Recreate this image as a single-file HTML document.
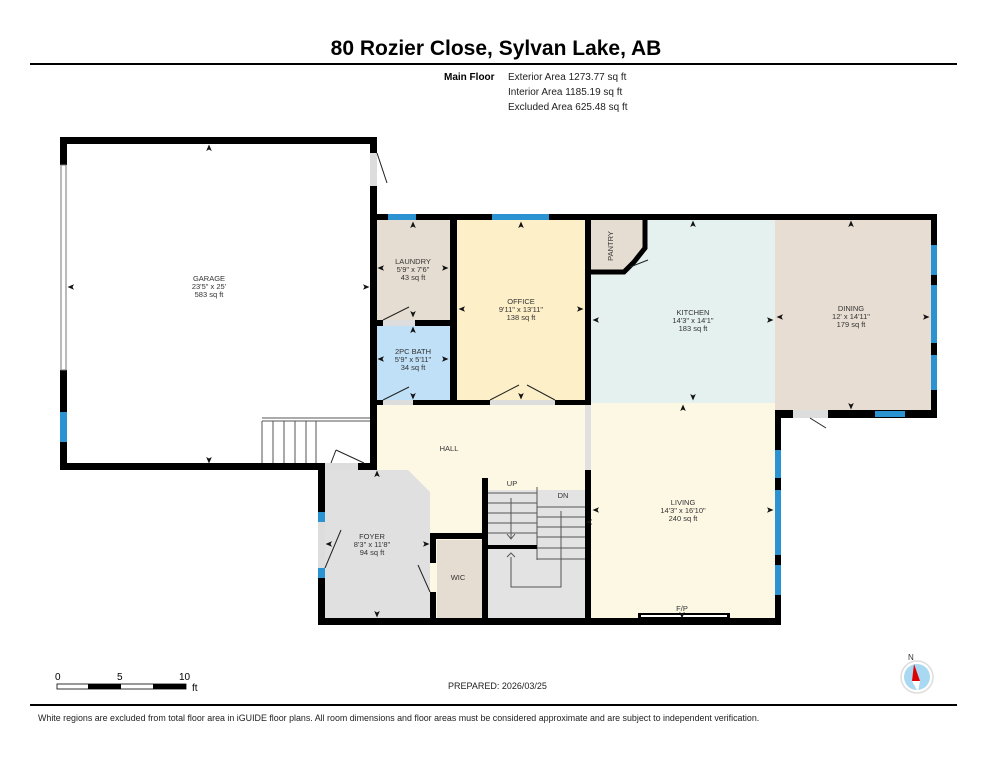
<!DOCTYPE html>
<html><head><meta charset="utf-8"><style>
html,body{margin:0;padding:0;background:#fff;}
svg{display:block;font-family:"Liberation Sans",Arial,sans-serif;}
</style></head><body>
<svg width="993" height="768" viewBox="0 0 993 768" xmlns="http://www.w3.org/2000/svg">
<defs>
<polygon id="au" points="0,-3.5 2.8,3 0,1.5 -2.8,3" fill="#111"/>
</defs>
<rect width="993" height="768" fill="#fff"/>
<!-- header -->
<text x="496" y="55" font-size="21" font-weight="bold" text-anchor="middle" fill="#000">80 Rozier Close, Sylvan Lake, AB</text>
<rect x="30" y="63" width="927" height="2" fill="#000"/>
<text x="444" y="80" font-size="10" font-weight="bold">Main Floor</text>
<g font-size="10" fill="#222">
<text x="508" y="80">Exterior Area 1273.77 sq ft</text>
<text x="508" y="95">Interior Area 1185.19 sq ft</text>
<text x="508" y="110">Excluded Area 625.48 sq ft</text>
</g>

<!-- fills -->
<rect x="377" y="220" width="73" height="100" fill="#e6ddd2"/>
<rect x="377" y="326" width="73" height="74" fill="#bfe0f7"/>
<rect x="457" y="220" width="128" height="180" fill="#fdf0c8"/>
<rect x="591" y="220" width="184" height="183" fill="#e4f1ee"/>
<polygon points="591,220 645,220 645,248 634,262 624,272 591,272" fill="#e6ddd2"/>
<rect x="775" y="220" width="156" height="190" fill="#e7ddd2"/>
<rect x="591" y="403" width="184" height="215" fill="#fdf8e4"/>
<rect x="377" y="405" width="208" height="213" fill="#fdf8e4"/>
<polygon points="325,470 408,470 430,492 430,618 325,618" fill="#e0e0e0"/>
<rect x="437" y="540" width="45" height="78" fill="#e6ddd2"/>
<rect x="488" y="490" width="97" height="128" fill="#e3e3e3"/>
<rect x="585" y="405" width="6" height="65" fill="#e0e0e0"/>

<!-- stairs -->
<g stroke="#555" stroke-width="1" fill="none">
<line x1="488" y1="493" x2="537" y2="493"/>
<line x1="488" y1="503" x2="537" y2="503"/>
<line x1="488" y1="513" x2="537" y2="513"/>
<line x1="488" y1="523" x2="537" y2="523"/>
<line x1="488" y1="533" x2="537" y2="533"/>
<line x1="537" y1="487" x2="537" y2="560"/>
<line x1="537" y1="507" x2="585" y2="507"/>
<line x1="537" y1="517" x2="585" y2="517"/>
<line x1="537" y1="527" x2="585" y2="527"/>
<line x1="537" y1="537" x2="585" y2="537"/>
<line x1="537" y1="548" x2="585" y2="548"/>
<line x1="537" y1="559" x2="585" y2="559"/>
<line x1="511" y1="498" x2="511" y2="538"/>
<polyline points="507,534 511,539 515,534"/>
<polyline points="511,557 511,587 561,587 561,511"/>
<polyline points="507,557 511,553 515,557"/>
<!-- garage stairs -->
<line x1="262" y1="418" x2="370" y2="418"/>
<line x1="262" y1="421" x2="370" y2="421"/>
<line x1="262" y1="421" x2="262" y2="463"/>
<line x1="273" y1="421" x2="273" y2="463"/>
<line x1="284" y1="421" x2="284" y2="463"/>
<line x1="295" y1="421" x2="295" y2="463"/>
<line x1="306" y1="421" x2="306" y2="463"/>
<line x1="316" y1="421" x2="316" y2="463"/>
</g>
<rect x="484" y="545" width="53" height="4" fill="#000"/>

<!-- walls -->
<g fill="#000">
<rect x="60" y="137" width="317" height="7"/>
<rect x="60" y="137" width="7" height="28"/>
<rect x="60" y="370" width="7" height="100"/>
<rect x="60" y="463" width="217" height="7"/>
<rect x="277" y="463" width="48" height="7"/>
<rect x="370" y="137" width="7" height="16"/>
<rect x="370" y="186" width="7" height="284"/>
<rect x="370" y="214" width="567" height="6"/>
<rect x="450" y="214" width="7" height="191"/>
<rect x="585" y="214" width="6" height="191"/>
<rect x="370" y="320" width="13" height="6"/>
<rect x="415" y="320" width="42" height="6"/>
<rect x="370" y="400" width="13" height="5"/>
<rect x="413" y="400" width="77" height="5"/>
<rect x="555" y="400" width="36" height="5"/>
<rect x="931" y="214" width="6" height="204"/>
<rect x="775" y="410" width="18" height="8"/>
<rect x="828" y="410" width="109" height="8"/>
<rect x="775" y="410" width="6" height="215"/>
<rect x="585" y="470" width="6" height="148"/>
<rect x="318" y="618" width="463" height="7"/>
<rect x="318" y="463" width="7" height="162"/>
<rect x="358" y="463" width="19" height="7"/>
<rect x="482" y="478" width="6" height="140"/>
<rect x="430" y="533" width="55" height="6"/>
<rect x="430" y="533" width="6" height="30"/>
<rect x="430" y="592" width="6" height="30"/>
<polyline points="645,220 645,248 634,262 624,272 591,272" fill="none" stroke="#000" stroke-width="5"/>
<rect x="638" y="613" width="92" height="6"/>
</g>
<rect x="641" y="615" width="86" height="2" fill="#fff"/>

<!-- windows -->
<g fill="#2b93d1">
<rect x="388" y="214" width="28" height="6"/>
<rect x="492" y="214" width="57" height="6"/>
<rect x="931" y="245" width="6" height="30"/>
<rect x="931" y="285" width="6" height="58"/>
<rect x="931" y="355" width="6" height="35"/>
<rect x="875" y="411" width="30" height="6"/>
<rect x="775" y="450" width="6" height="28"/>
<rect x="775" y="490" width="6" height="65"/>
<rect x="775" y="565" width="6" height="30"/>
<rect x="60" y="412" width="7" height="30"/>
<rect x="318" y="512" width="7" height="10"/>
<rect x="318" y="568" width="7" height="10"/>
</g>
<rect x="61" y="165" width="5" height="205" fill="#fff" stroke="#777" stroke-width="1"/>

<!-- doors -->
<g fill="#ddd"><rect x="370" y="153" width="7" height="33"/><rect x="383" y="400" width="30" height="5"/><rect x="490" y="400" width="65" height="5"/><rect x="383" y="320" width="32" height="6"/><rect x="325" y="463" width="33" height="7"/><rect x="793" y="410" width="35" height="8"/><rect x="318" y="522" width="7" height="46"/></g>
<g stroke="#222" stroke-width="1" fill="none">
<line x1="377" y1="153" x2="387" y2="183"/>
<line x1="383" y1="320" x2="409" y2="307"/>
<line x1="383" y1="400" x2="409" y2="387"/>
<line x1="490" y1="400" x2="519" y2="385"/>
<line x1="555" y1="400" x2="527" y2="385"/>
<line x1="331" y1="463" x2="336" y2="450"/><line x1="336" y1="450" x2="364" y2="463"/>
<line x1="325" y1="568" x2="341" y2="530"/>
<line x1="430" y1="592" x2="418" y2="565"/>
<line x1="810" y1="418" x2="826" y2="428"/>
<line x1="630" y1="267" x2="648" y2="260"/>
</g>

<!-- dimension arrowheads -->
<g>
<use href="#au" transform="translate(209,148)"/>
<use href="#au" transform="translate(209,460) rotate(180)"/>
<use href="#au" transform="translate(71,287) rotate(-90)"/>
<use href="#au" transform="translate(366,287) rotate(90)"/>
<use href="#au" transform="translate(413,225)"/>
<use href="#au" transform="translate(413,314) rotate(180)"/>
<use href="#au" transform="translate(381,268) rotate(-90)"/>
<use href="#au" transform="translate(445,268) rotate(90)"/>
<use href="#au" transform="translate(413,330)"/>
<use href="#au" transform="translate(413,396) rotate(180)"/>
<use href="#au" transform="translate(381,359) rotate(-90)"/>
<use href="#au" transform="translate(445,359) rotate(90)"/>
<use href="#au" transform="translate(521,225)"/>
<use href="#au" transform="translate(521,396) rotate(180)"/>
<use href="#au" transform="translate(462,309) rotate(-90)"/>
<use href="#au" transform="translate(580,309) rotate(90)"/>
<use href="#au" transform="translate(693,224)"/>
<use href="#au" transform="translate(693,397) rotate(180)"/>
<use href="#au" transform="translate(596,320) rotate(-90)"/>
<use href="#au" transform="translate(770,320) rotate(90)"/>
<use href="#au" transform="translate(851,224)"/>
<use href="#au" transform="translate(851,406) rotate(180)"/>
<use href="#au" transform="translate(780,317) rotate(-90)"/>
<use href="#au" transform="translate(926,317) rotate(90)"/>
<use href="#au" transform="translate(683,408)"/>
<use href="#au" transform="translate(682,615) rotate(180)"/>
<use href="#au" transform="translate(596,510) rotate(-90)"/>
<use href="#au" transform="translate(770,510) rotate(90)"/>
<use href="#au" transform="translate(377,474)"/>
<use href="#au" transform="translate(377,614) rotate(180)"/>
<use href="#au" transform="translate(329,544) rotate(-90)"/>
<use href="#au" transform="translate(426,544) rotate(90)"/>
<use href="#au" transform="translate(589,522) rotate(-90)"/>
</g>

<!-- labels -->
<g font-size="7.5" fill="#333" text-anchor="middle">
<text x="209" y="281">GARAGE</text><text x="209" y="289">23'5" x 25'</text><text x="209" y="297">583 sq ft</text>
<text x="413" y="264">LAUNDRY</text><text x="413" y="272">5'9" x 7'6"</text><text x="413" y="280">43 sq ft</text>
<text x="413" y="354">2PC BATH</text><text x="413" y="362">5'9" x 5'11"</text><text x="413" y="370">34 sq ft</text>
<text x="521" y="304">OFFICE</text><text x="521" y="312">9'11" x 13'11"</text><text x="521" y="320">138 sq ft</text>
<text x="693" y="315">KITCHEN</text><text x="693" y="323">14'3" x 14'1"</text><text x="693" y="331">183 sq ft</text>
<text x="851" y="311">DINING</text><text x="851" y="319">12' x 14'11"</text><text x="851" y="327">179 sq ft</text>
<text x="683" y="505">LIVING</text><text x="683" y="513">14'3" x 16'10"</text><text x="683" y="521">240 sq ft</text>
<text x="372" y="539">FOYER</text><text x="372" y="547">8'3" x 11'8"</text><text x="372" y="555">94 sq ft</text>
<text x="449" y="451">HALL</text>
<text x="458" y="580">WIC</text>
<text x="512" y="486">UP</text>
<text x="563" y="498">DN</text>
<text x="682" y="611">F/P</text>
<text x="613" y="246" transform="rotate(-90 613 246)">PANTRY</text>
</g>

<!-- scale -->
<g font-size="10" fill="#000">
<text x="55" y="680">0</text><text x="117" y="680">5</text><text x="179" y="680">10</text><text x="192" y="691">ft</text>
</g>
<rect x="57" y="684" width="129" height="5" fill="#fff" stroke="#000" stroke-width="0.8"/>
<rect x="88" y="684" width="33" height="5" fill="#000"/>
<rect x="153" y="684" width="33" height="5" fill="#000"/>
<text x="448" y="689" font-size="9" fill="#222">PREPARED: 2026/03/25</text>
<!-- compass -->
<text x="908" y="660" font-size="8" fill="#333">N</text>
<circle cx="917" cy="677" r="16" fill="#fff" stroke="#ddd" stroke-width="1.5"/>
<circle cx="917" cy="677" r="13" fill="#a8d8f2"/>
<polygon points="914,664 920,681 912,681" fill="#e00000"/>
<polygon points="912,681 920,681 918,692" fill="#fff"/>
<rect x="30" y="704" width="927" height="2" fill="#000"/>
<text x="38" y="721" font-size="8.9" fill="#222">White regions are excluded from total floor area in iGUIDE floor plans. All room dimensions and floor areas must be considered approximate and are subject to independent verification.</text>
</svg>
</body></html>
